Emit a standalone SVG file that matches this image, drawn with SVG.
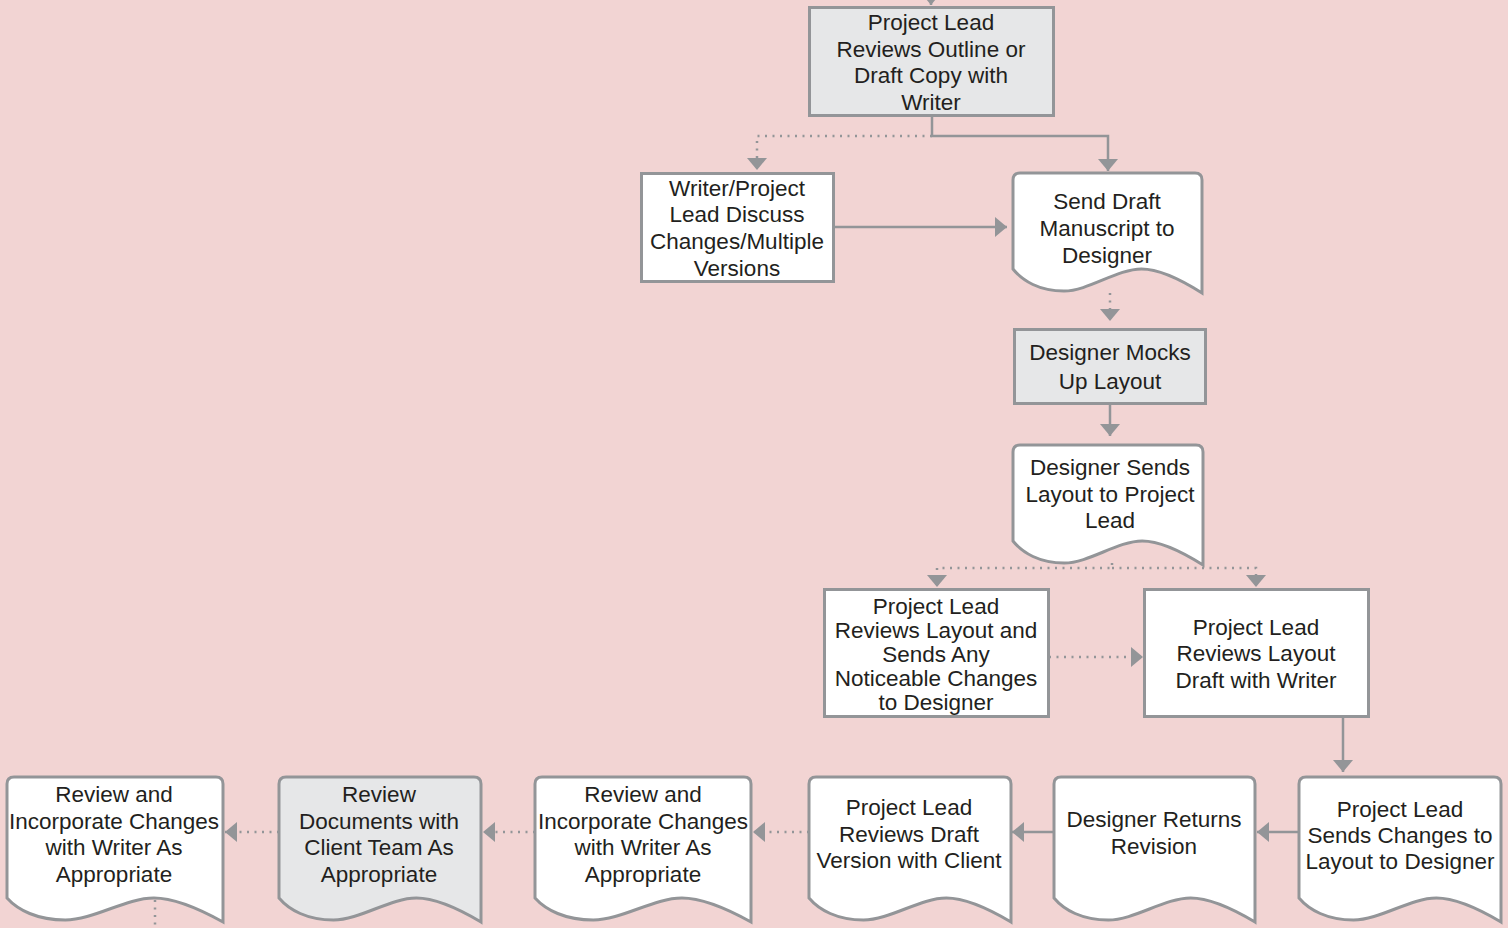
<svg xmlns="http://www.w3.org/2000/svg" width="1508" height="928" viewBox="0 0 1508 928">
<style>
.bg{fill:#f2d4d3}
.box{fill:#ffffff;stroke:#939598;stroke-width:3}
.gray{fill:#e6e7e8}
.t{font-family:"Liberation Sans",Arial,sans-serif;font-size:22.5px;fill:#231f20;text-anchor:middle}
.c{fill:none;stroke:#939598;stroke-width:2.5}
.d{fill:none;stroke:#939598;stroke-width:2.5;stroke-dasharray:2 5.5}
</style>
<defs>
<marker id="ah" markerUnits="userSpaceOnUse" markerWidth="13" markerHeight="20" refX="12" refY="10" orient="auto" viewBox="0 0 13 20">
<path d="M0,0 L12,10 L0,20 Z" fill="#939598"/>
</marker>
</defs>
<rect class="bg" x="0" y="0" width="1508" height="928"/>
<g id="connectors">
<path class="c" d="M931,-30 V5" marker-end="url(#ah)"/>
<path class="c" d="M932,116 V136 H1108 V171" marker-end="url(#ah)"/>
<path class="d" d="M932,136 H757 V170" marker-end="url(#ah)"/>
<path class="c" d="M834,227 H1007" marker-end="url(#ah)"/>
<path class="d" d="M1110,293 V321" marker-end="url(#ah)"/>
<path class="c" d="M1110,404 V436" marker-end="url(#ah)"/>
<path class="d" d="M1112,563 V568 H937 V587" marker-end="url(#ah)"/>
<path class="d" d="M1112,568 H1256 V587" marker-end="url(#ah)"/>
<path class="d" d="M1049,657 H1143" marker-end="url(#ah)"/>
<path class="c" d="M1343,715 V772" marker-end="url(#ah)"/>
<path class="c" d="M1299,832 H1257" marker-end="url(#ah)"/>
<path class="c" d="M1054,832 H1012" marker-end="url(#ah)"/>
<path class="d" d="M809,832 H753" marker-end="url(#ah)"/>
<path class="d" d="M535,832 H483" marker-end="url(#ah)"/>
<path class="d" d="M279,832 H225" marker-end="url(#ah)"/>
<path class="d" d="M155,900 V930"/>
</g>
<g id="n1">
<rect class="box gray" x="809.5" y="7.5" width="244" height="108"/>
<text class="t" x="931" y="30">Project Lead</text>
<text class="t" x="931" y="56.5">Reviews Outline or</text>
<text class="t" x="931" y="83">Draft Copy with</text>
<text class="t" x="931" y="110">Writer</text>
</g>
<g id="n2">
<rect class="box" x="641.5" y="173.5" width="192" height="108"/>
<text class="t" x="737" y="196">Writer/Project</text>
<text class="t" x="737" y="222">Lead Discuss</text>
<text class="t" x="737" y="249">Changes/Multiple</text>
<text class="t" x="737" y="276">Versions</text>
</g>
<g id="n3">
<path class="box" d="M1013,180 Q1013,173 1020,173 H1195 Q1202,173 1202,180 V293 C1183.1,281 1160.4,269 1141.5,269 C1117,269 1088.6,291 1064,291 C1039.5,291 1022.5,281 1013,269 Z"/>
<text class="t" x="1107" y="209">Send Draft</text>
<text class="t" x="1107" y="236">Manuscript to</text>
<text class="t" x="1107" y="263">Designer</text>
</g>
<g id="n4">
<rect class="box gray" x="1014.5" y="329.5" width="191" height="74"/>
<text class="t" x="1110" y="360">Designer Mocks</text>
<text class="t" x="1110" y="389">Up Layout</text>
</g>
<g id="n5">
<path class="box" d="M1013,452 Q1013,445 1020,445 H1196 Q1203,445 1203,452 V565 C1184,553 1161.2,541 1142.2,541 C1117.5,541 1089,563 1064.3,563 C1039.6,563 1022.5,553 1013,541 Z"/>
<text class="t" x="1110" y="475">Designer Sends</text>
<text class="t" x="1110" y="502">Layout to Project</text>
<text class="t" x="1110" y="528">Lead</text>
</g>
<g id="n6">
<rect class="box" x="824.5" y="589.5" width="224" height="127"/>
<text class="t" x="936" y="614">Project Lead</text>
<text class="t" x="936" y="638">Reviews Layout and</text>
<text class="t" x="936" y="662">Sends Any</text>
<text class="t" x="936" y="686">Noticeable Changes</text>
<text class="t" x="936" y="710">to Designer</text>
</g>
<g id="n7">
<rect class="box" x="1144.5" y="589.5" width="224" height="127"/>
<text class="t" x="1256" y="635">Project Lead</text>
<text class="t" x="1256" y="661">Reviews Layout</text>
<text class="t" x="1256" y="688">Draft with Writer</text>
</g>
<g id="n8">
<path class="box" d="M1299,784 Q1299,777 1306,777 H1494 Q1501,777 1501,784 V922 C1480.8,910 1456.6,898 1436.4,898 C1410.1,898 1379.8,920 1353.5,920 C1327.3,920 1309.1,910 1299,898 Z"/>
<text class="t" x="1400" y="817">Project Lead</text>
<text class="t" x="1400" y="843">Sends Changes to</text>
<text class="t" x="1400" y="869">Layout to Designer</text>
</g>
<g id="n9">
<path class="box" d="M1054,784 Q1054,777 1061,777 H1248 Q1255,777 1255,784 V922 C1234.9,910 1210.8,898 1190.7,898 C1164.6,898 1134.4,920 1108.3,920 C1082.1,920 1064,910 1054,898 Z"/>
<text class="t" x="1154" y="827">Designer Returns</text>
<text class="t" x="1154" y="854">Revision</text>
</g>
<g id="n10">
<path class="box" d="M809,784 Q809,777 816,777 H1004 Q1011,777 1011,784 V922 C990.8,910 966.6,898 946.4,898 C920.1,898 889.8,920 863.5,920 C837.3,920 819.1,910 809,898 Z"/>
<text class="t" x="909" y="815">Project Lead</text>
<text class="t" x="909" y="842">Reviews Draft</text>
<text class="t" x="909" y="868">Version with Client</text>
</g>
<g id="n11">
<path class="box" d="M535,784 Q535,777 542,777 H744 Q751,777 751,784 V922 C729.4,910 703.5,898 681.9,898 C653.8,898 621.4,920 593.3,920 C565.2,920 545.8,910 535,898 Z"/>
<text class="t" x="643" y="802">Review and</text>
<text class="t" x="643" y="829">Incorporate Changes</text>
<text class="t" x="643" y="855">with Writer As</text>
<text class="t" x="643" y="882">Appropriate</text>
</g>
<g id="n12">
<path class="box gray" d="M279,784 Q279,777 286,777 H474 Q481,777 481,784 V922 C460.8,910 436.6,898 416.4,898 C390.1,898 359.8,920 333.5,920 C307.3,920 289.1,910 279,898 Z"/>
<text class="t" x="379" y="802">Review</text>
<text class="t" x="379" y="829">Documents with</text>
<text class="t" x="379" y="855">Client Team As</text>
<text class="t" x="379" y="882">Appropriate</text>
</g>
<g id="n13">
<path class="box" d="M7,784 Q7,777 14,777 H216 Q223,777 223,784 V922 C201.4,910 175.5,898 153.9,898 C125.8,898 93.4,920 65.3,920 C37.2,920 17.8,910 7,898 Z"/>
<text class="t" x="114" y="802">Review and</text>
<text class="t" x="114" y="829">Incorporate Changes</text>
<text class="t" x="114" y="855">with Writer As</text>
<text class="t" x="114" y="882">Appropriate</text>
</g>
</svg>
